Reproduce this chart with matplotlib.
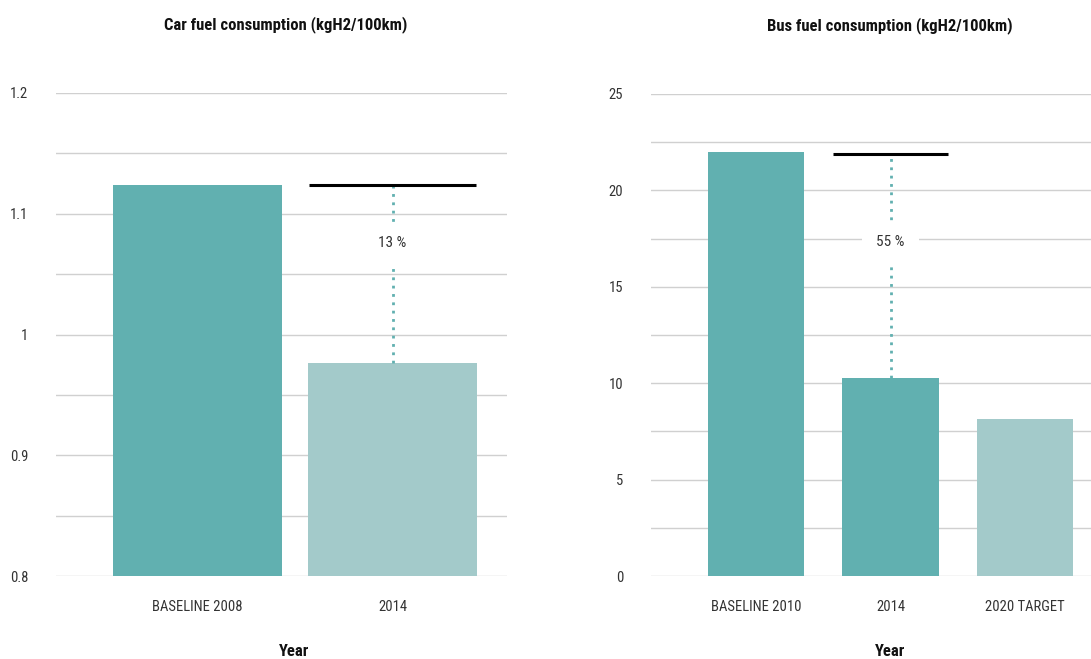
import matplotlib
matplotlib.use("Agg")
import matplotlib.pyplot as plt
from matplotlib import font_manager

# prefer a narrow face if one is installed
available = {f.name for f in font_manager.fontManager.ttflist}
narrow = [n for n in ["Liberation Sans Narrow", "Roboto Condensed", "DejaVu Sans Condensed"] if n in available]
plt.rcParams['font.family'] = narrow + ['DejaVu Sans']
plt.rcParams['font.stretch'] = 'condensed'

# car chart
car_categories = ["BASELINE 2008", "2014"]
car_values = [1.124, 0.976]
car_reduction_label = "13 %"

# bus chart
bus_categories = ["BASELINE 2010", "2014", "2020 TARGET"]
bus_values = [22.0, 10.25, 8.13]
bus_reduction_label = "55 %"

DARK = "#61b0b0"
LIGHT = "#a3caca"
GRID = "#d0d0d0"
TEXT = "#333333"

FS = 10.5 if narrow else 9.5


def style_axes(ax, title, title_x, label_x):
    for side in ["top", "right", "left", "bottom"]:
        ax.spines[side].set_visible(False)
    ax.grid(True, axis="y", color=GRID, linewidth=1.0)
    ax.set_axisbelow(True)
    ax.tick_params(length=0, labelsize=FS, colors=TEXT)
    ax.tick_params(axis="x", pad=17)
    ax.tick_params(axis="y", pad=20)
    ax.set_title(title, fontsize=FS + 1.5, fontweight="bold", color="#111111", pad=46, x=title_x)
    ax.set_xlabel("Year", fontsize=FS + 1.5, fontweight="bold", color="#111111")
    ax.xaxis.set_label_coords(label_x, -0.141)


def draw_reduction(ax, x, half_width, top, bottom, label, label_y):
    ax.hlines(top, x - half_width, x + half_width, color="black", linewidth=2.2, zorder=4)
    ax.vlines(x, bottom, top, color=DARK, linewidth=2, linestyles=(0, (1, 2)), zorder=3)
    ax.text(x, label_y, label, ha="center", va="center", fontsize=FS + 0.5, color=TEXT,
            zorder=5, bbox=dict(facecolor="white", edgecolor="none", pad=10))


fig = plt.figure(figsize=(10.91, 6.59), dpi=100)

# left panel
ax1 = fig.add_axes([0.0513, 0.1259, 0.4134, 0.733])
ax1.bar(range(len(car_values)), car_values, width=0.867, color=[DARK, LIGHT], zorder=2)
ax1.set_ylim(0.8, 1.2)
ax1.set_xlim(-0.726, 1.587)
ax1.set_yticks([0.8, 0.85, 0.9, 0.95, 1.0, 1.05, 1.1, 1.15, 1.2])
ax1.set_yticklabels(["0.8", "", "0.9", "", "1", "", "1.1", "", "1.2"])
ax1.set_xticks(range(len(car_categories)))
ax1.set_xticklabels(car_categories)
style_axes(ax1, "Car fuel consumption (kgH2/100km)", 0.51, 0.529)
draw_reduction(ax1, 1, 0.43, car_values[0], car_values[1], car_reduction_label, 1.076)

# right panel
ax2 = fig.add_axes([0.5967, 0.1259, 0.4033, 0.7315])
ax2.bar(range(len(bus_values)), bus_values, width=0.714, color=[DARK, DARK, LIGHT], zorder=2)
ax2.set_ylim(0, 25)
ax2.set_xlim(-0.78, 2.49)
ax2.set_yticks([0, 2.5, 5, 7.5, 10, 12.5, 15, 17.5, 20, 22.5, 25])
ax2.set_yticklabels(["0", "", "5", "", "10", "", "15", "", "20", "", "25"])
ax2.set_xticks(range(len(bus_categories)))
ax2.set_xticklabels(bus_categories)
style_axes(ax2, "Bus fuel consumption (kgH2/100km)", 0.543, 0.543)
draw_reduction(ax2, 1, 0.425, bus_values[0] - 0.1, bus_values[1], bus_reduction_label, 17.3)

fig.savefig("out.png", dpi=100)
